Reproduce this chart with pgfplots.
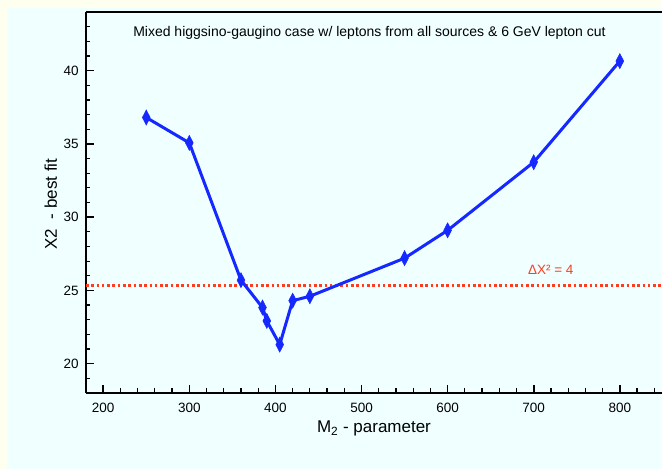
\documentclass[border=0pt]{standalone}
\usepackage{pgfplots}
\pgfplotsset{compat=1.18}
\usepackage{fontspec}
\setmainfont{Liberation Sans}
\definecolor{bgout}{RGB}{255,255,240}
\definecolor{bgin}{RGB}{240,255,255}
\definecolor{lineblue}{RGB}{20,40,255}
\definecolor{dotred}{RGB}{255,60,30}
\begin{document}
\begin{tikzpicture}[x=1pt,y=1pt]
\useasboundingbox (-86,-76) rectangle (576,393);
\fill[bgout] (-86,-76) rectangle (576,393);
\fill[bgin] (-79,-76) rectangle (576,385);
\begin{axis}[
  at={(0,0)}, anchor=south west,
  scale only axis, width=576pt, height=381pt,
  xmin=180, xmax=849, ymin=18, ymax=44,
  separate axis lines,
  axis x line*=box,
  axis y line*=left,
  x axis line style={-, line width=2pt},
  y axis line style={-, line width=2pt},
  tick align=inside,
  xtick pos=left, ytick pos=left,
  xtick={100,200,...,900}, ytick={15,20,...,45},
  minor x tick num=4, minor y tick num=4,
  major tick length=8pt, minor tick length=4.5pt,
  major tick style={line width=1.6pt, black},
  minor tick style={line width=1.2pt, black},
  tick label style={font=\fontsize{13.5}{16}\selectfont},
  /pgf/number format/assume math mode=true,
  yticklabel style={xshift=-3.8pt},
  xticklabel style={yshift=-6.5pt},
  xlabel={M\textsubscript{2} - parameter},
  xlabel style={at={(axis description cs:0.5,-0.0932)}, anchor=center, font=\fontsize{17}{20}\selectfont},
  ylabel={X2\ \ - best fit},
  ylabel style={at={(axis description cs:-0.0613,0.496)}, anchor=center, font=\fontsize{17}{20}\selectfont},
]
\addplot[dotred, line width=2.5pt, dash pattern=on 2.6pt off 2.7pt, forget plot]
  coordinates {(180,25.35) (849,25.35)};
\addplot[lineblue, line width=3pt, mark=diamond*, mark size=5.2pt,
  mark options={yscale=1.45, solid, line width=0.5pt, fill=lineblue}]
  coordinates {
  (250,36.8) (300,35.07) (360,25.7) (385,23.83) (390,22.92) (405,21.3)
  (420,24.3) (440,24.6) (550,27.2) (600,29.1) (700,33.75) (800,40.65)
  };
\node[font=\fontsize{14}{16}\selectfont, anchor=center] at (axis cs:509.2,42.56)
  {Mixed higgsino-gaugino case w/ leptons from all sources \& 6 GeV lepton cut};
\node[font=\fontsize{13.5}{16}\selectfont, text=dotred, anchor=center] at (axis cs:719.8,26.43)
  {ΔX² = 4};
\end{axis}
\end{tikzpicture}
\end{document}
